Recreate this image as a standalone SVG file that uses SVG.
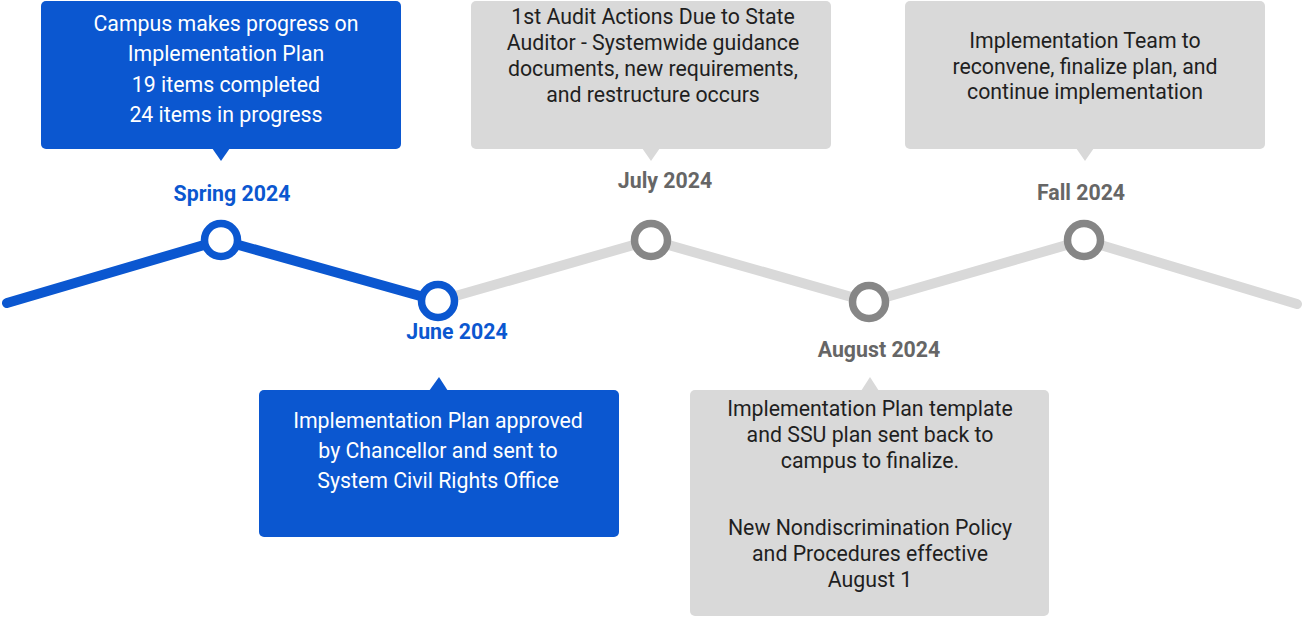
<svg xmlns="http://www.w3.org/2000/svg" width="1304" height="617" viewBox="0 0 1304 617">
<style>
.box-blue{fill:#0b57d0}
.box-gray{fill:#d9d9d9}
.t{font-family:Roboto,"Liberation Sans",sans-serif;font-size:21.3px;text-anchor:middle}
.tw{fill:#ffffff}
.tk{fill:#1f1f1f}
.lbl{font-family:Roboto,"Liberation Sans",sans-serif;font-size:21.3px;font-weight:bold;text-anchor:middle}
.lb{fill:#0b57d0}
.lg{fill:#666666}
.dot-b{fill:#ffffff;stroke:#0b57d0;stroke-width:7.5}
.dot-g{fill:#ffffff;stroke:#868686;stroke-width:7.5}
</style>
<rect width="1304" height="617" fill="#ffffff"/>
<g id="connectors" fill="none" stroke-width="10" stroke-linecap="round" stroke-linejoin="round">
<polyline points="438,301 651,240 869,302 1084,240 1297,304" stroke="#d9d9d9"/>
<polyline points="7,303 221,240 438,301" stroke="#0b57d0"/>
</g>
<g id="spring">
<rect class="box-blue" x="41" y="1" width="360" height="148" rx="5"/>
<polygon class="box-blue" points="212,148 230,148 221,161"/>
<text class="t tw" x="226" y="31">Campus makes progress on</text>
<text class="t tw" x="226" y="61">Implementation Plan</text>
<text class="t tw" x="226" y="92">19 items completed</text>
<text class="t tw" x="226" y="122">24 items in progress</text>
<text class="lbl lb" x="232" y="201">Spring 2024</text>
<circle class="dot-b" cx="221" cy="240" r="16.5"/>
</g>
<g id="june">
<circle class="dot-b" cx="438" cy="301" r="16.5"/>
<text class="lbl lb" x="457" y="339">June 2024</text>
<polygon class="box-blue" points="429,391 448,391 439,377"/>
<rect class="box-blue" x="259" y="390" width="360" height="147" rx="5"/>
<text class="t tw" x="438" y="428">Implementation Plan approved</text>
<text class="t tw" x="438" y="458">by Chancellor and sent to</text>
<text class="t tw" x="438" y="488">System Civil Rights Office</text>
</g>
<g id="july">
<rect class="box-gray" x="471" y="1" width="360" height="148" rx="5"/>
<polygon class="box-gray" points="642,148 660,148 651,161"/>
<text class="t tk" x="653" y="24">1st Audit Actions Due to State</text>
<text class="t tk" x="653" y="50">Auditor - Systemwide guidance</text>
<text class="t tk" x="653" y="76">documents, new requirements,</text>
<text class="t tk" x="653" y="102">and restructure occurs</text>
<text class="lbl lg" x="665" y="188">July 2024</text>
<circle class="dot-g" cx="651" cy="240" r="16.5"/>
</g>
<g id="august">
<circle class="dot-g" cx="869" cy="302" r="16.5"/>
<text class="lbl lg" x="879" y="357">August 2024</text>
<polygon class="box-gray" points="861,391 879,391 870,377"/>
<rect class="box-gray" x="690" y="390" width="359" height="226" rx="5"/>
<text class="t tk" x="870" y="416">Implementation Plan template</text>
<text class="t tk" x="870" y="442">and SSU plan sent back to</text>
<text class="t tk" x="870" y="468">campus to finalize.</text>
<text class="t tk" x="870" y="535">New Nondiscrimination Policy</text>
<text class="t tk" x="870" y="561">and Procedures effective</text>
<text class="t tk" x="870" y="587">August 1</text>
</g>
<g id="fall">
<rect class="box-gray" x="905" y="1" width="360" height="148" rx="5"/>
<polygon class="box-gray" points="1076,148 1094,148 1085,161"/>
<text class="t tk" x="1085" y="48">Implementation Team to</text>
<text class="t tk" x="1085" y="74">reconvene, finalize plan, and</text>
<text class="t tk" x="1085" y="99">continue implementation</text>
<text class="lbl lg" x="1081" y="200">Fall 2024</text>
<circle class="dot-g" cx="1084" cy="240" r="16.5"/>
</g>
</svg>
